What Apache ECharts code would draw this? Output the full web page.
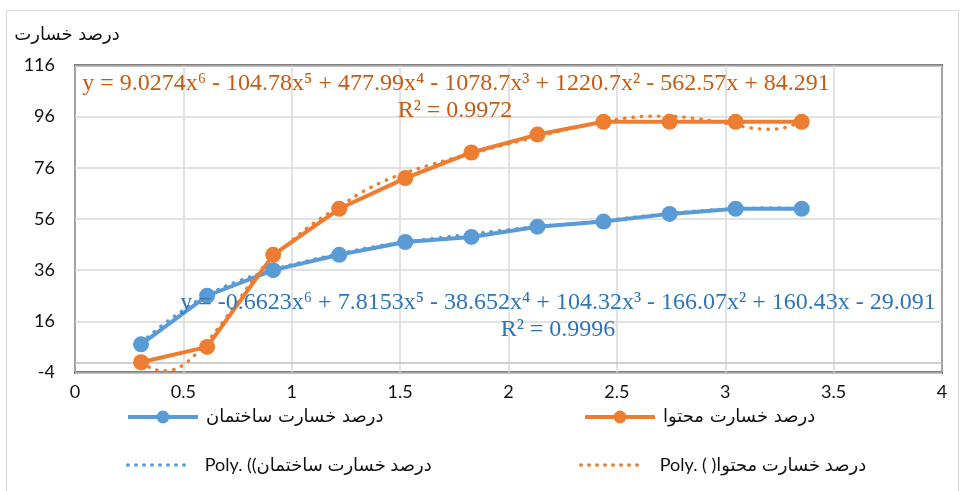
<!DOCTYPE html>
<html>
<head>
<meta charset="utf-8">
<script src="https://cdn.jsdelivr.net/npm/echarts@6/dist/echarts.min.js"></script>
<style>
html,body{margin:0;padding:0;background:#fff;}
#c{width:965px;height:491px;}
</style>
</head>
<body>
<div id="c"></div>
<script>
// ---- data ----
const xValues = [0.3048, 0.6096, 0.9144, 1.2192, 1.524, 1.8288, 2.1336, 2.4384, 2.7432, 3.048, 3.3528];
const buildingLoss = [7, 26, 36, 42, 47, 49, 53, 55, 58, 60, 60];
const contentLoss = [0, 6, 42, 60, 72, 82, 89, 94, 94, 94, 94];

const buildingTrendX = [0.3048, 0.4, 0.5, 0.6096, 0.75, 0.9144, 1.07, 1.2192, 1.37, 1.524, 1.68, 1.8288, 1.98, 2.1336, 2.29, 2.4384, 2.6, 2.7432, 2.9, 3.048, 3.2, 3.3528];
const buildingTrendY = [7.6, 14.3, 20.4, 26.3, 31.6, 36.2, 39.6, 42.4, 45.0, 47.0, 48.6, 50.1, 51.6, 53.0, 54.1, 55.3, 56.9, 58.1, 59.3, 60.0, 60.3, 60.2];

const contentTrendX = [0.3048, 0.35, 0.40, 0.45, 0.50, 0.55, 0.6096, 0.68, 0.76, 0.84, 0.9144, 1.0, 1.1, 1.2192, 1.32, 1.42, 1.524, 1.64, 1.75, 1.8288, 1.95, 2.04, 2.1336, 2.25, 2.35, 2.4384, 2.54, 2.65, 2.7432, 2.85, 2.95, 3.048, 3.12, 3.2, 3.275, 3.3528];
const contentTrendY = [-0.4, -2.2, -3.3, -3.0, -1.0, 2.6, 8.0, 15.5, 25.0, 34.3, 41.3, 47.5, 54.3, 60.8, 66.3, 70.6, 74.0, 77.2, 79.8, 81.6, 84.3, 86.2, 88.2, 90.6, 92.6, 94.0, 95.4, 96.2, 96.2, 95.4, 94.2, 92.7, 91.6, 91.1, 91.7, 94.2];

const yTicks = [-4, 16, 36, 56, 76, 96, 116];
const xTicks = [0, 0.5, 1, 1.5, 2, 2.5, 3, 3.5, 4];

const yAxisTitle = 'درصد خسارت';
const seriesNames = ['درصد خسارت ساختمان', 'درصد خسارت محتوا', 'Poly. ((درصد خسارت ساختمان', 'Poly. ( )درصد خسارت محتوا'];
const contentEq = 'y = 9.0274x\u2076 - 104.78x\u2075 + 477.99x\u2074 - 1078.7x\u00B3 + 1220.7x\u00B2 - 562.57x + 84.291';
const contentR2 = 'R\u00B2 = 0.9972';
const buildingEq = 'y = -0.6623x\u2076 + 7.8153x\u2075 - 38.652x\u2074 + 104.32x\u00B3 - 166.07x\u00B2 + 160.43x - 29.091';
const buildingR2 = 'R\u00B2 = 0.9996';

// ---- chart ----
const BLUE = '#5B9BD5', ORANGE = '#ED7D31';
const pairs = (xs, ys) => xs.map((x, i) => [x, ys[i]]);
const chart = echarts.init(document.getElementById('c'), null, {renderer: 'canvas'});
const labelFont = 'Lato, "DejaVu Sans", sans-serif';
const dotted = {type: [0.5, 8], cap: 'round', width: 3.4};

chart.setOption({
  animation: false,
  grid: {left: 75, right: 23, top: 65.5, bottom: 118.5, show: true, borderColor: '#000', borderWidth: 2, backgroundColor: 'transparent'},
  xAxis: {
    type: 'value', min: xTicks[0], max: xTicks[xTicks.length - 1], interval: 0.5,
    axisLine: {show: false}, axisTick: {show: false},
    splitLine: {show: true, lineStyle: {color: '#d9d9d9', width: 1.5}},
    axisLabel: {color: '#111', fontSize: 18, fontFamily: labelFont, margin: 11}
  },
  yAxis: {
    type: 'value', min: yTicks[0], max: yTicks[yTicks.length - 1], interval: 20,
    axisLine: {show: false}, axisTick: {show: false},
    splitLine: {show: true, lineStyle: {color: '#d9d9d9', width: 1.5}},
    axisLabel: {color: '#111', fontSize: 18, fontFamily: labelFont, margin: 20}
  },
  legend: [
    {data: [seriesNames[0]], left: 121, top: 403, itemWidth: 70, itemHeight: 16, lineStyle: {width: 4}, textStyle: {fontSize: 18, fontFamily: '"DejaVu Sans", sans-serif', color: '#111', padding: [0, 0, 0, 3]}},
    {data: [seriesNames[1]], left: 578, top: 403, itemWidth: 70, itemHeight: 16, lineStyle: {width: 4}, textStyle: {fontSize: 18, fontFamily: '"DejaVu Sans", sans-serif', color: '#111', padding: [0, 0, 0, 3]}},
    {data: [seriesNames[2]], left: 121, top: 451, itemWidth: 58, itemHeight: 16, itemStyle: {opacity: 0}, lineStyle: {width: 3.4, type: [0.5, 7.5], cap: 'round'}, textStyle: {fontSize: 18, fontFamily: labelFont, color: '#111', padding: [0, 0, 0, 14]}},
    {data: [seriesNames[3]], left: 574, top: 451, itemWidth: 64, itemHeight: 16, itemStyle: {opacity: 0}, lineStyle: {width: 3.4, type: [0.5, 7.5], cap: 'round'}, textStyle: {fontSize: 18, fontFamily: labelFont, color: '#111', padding: [0, 0, 0, 10]}}
  ],
  series: [
    {
      name: seriesNames[0], type: 'line', data: pairs(xValues, buildingLoss),
      symbol: 'circle', symbolSize: 16, lineStyle: {color: BLUE, width: 4}, itemStyle: {color: BLUE},
      z: 3,
      markLine: {silent: true, symbol: 'none', label: {show: false}, lineStyle: {color: '#bfbfbf', width: 1.5, type: 'solid'}, data: [{yAxis: 0}], z: 1}
    },
    {
      name: seriesNames[1], type: 'line', data: pairs(xValues, contentLoss),
      symbol: 'circle', symbolSize: 16, lineStyle: {color: ORANGE, width: 4}, itemStyle: {color: ORANGE}, z: 3
    },
    {
      name: seriesNames[2], type: 'line', data: pairs(buildingTrendX, buildingTrendY), smooth: 0.35,
      symbol: 'none', lineStyle: Object.assign({color: BLUE}, dotted), itemStyle: {color: BLUE}, z: 4
    },
    {
      name: seriesNames[3], type: 'line', data: pairs(contentTrendX, contentTrendY), smooth: 0.35,
      symbol: 'none', lineStyle: Object.assign({color: ORANGE}, dotted), itemStyle: {color: ORANGE}, z: 4
    }
  ],
  graphic: [
    {type: 'rect', shape: {x: 6.5, y: 10.5, width: 952, height: 490}, style: {fill: 'none', stroke: '#d9d9d9', lineWidth: 1}, silent: true, z: -10},
    {type: 'text', x: 67, y: 35, style: {text: yAxisTitle, font: '18px "DejaVu Sans", sans-serif', fill: '#111', align: 'center', verticalAlign: 'middle'}},
    {type: 'text', x: 456, y: 84, z: 10, style: {text: contentEq, font: '24px "Liberation Serif", "Times New Roman", serif', fill: '#C55A11', align: 'center', verticalAlign: 'middle'}},
    {type: 'text', x: 455, y: 111, z: 10, style: {text: contentR2, font: '24px "Liberation Serif", "Times New Roman", serif', fill: '#C55A11', align: 'center', verticalAlign: 'middle'}},
    {type: 'text', x: 558, y: 303, z: 10, style: {text: buildingEq, font: '24px "Liberation Serif", "Times New Roman", serif', fill: '#2E75B6', align: 'center', verticalAlign: 'middle'}},
    {type: 'text', x: 558, y: 330, z: 10, style: {text: buildingR2, font: '24px "Liberation Serif", "Times New Roman", serif', fill: '#2E75B6', align: 'center', verticalAlign: 'middle'}}
  ]
});
</script>
</body>
</html>
